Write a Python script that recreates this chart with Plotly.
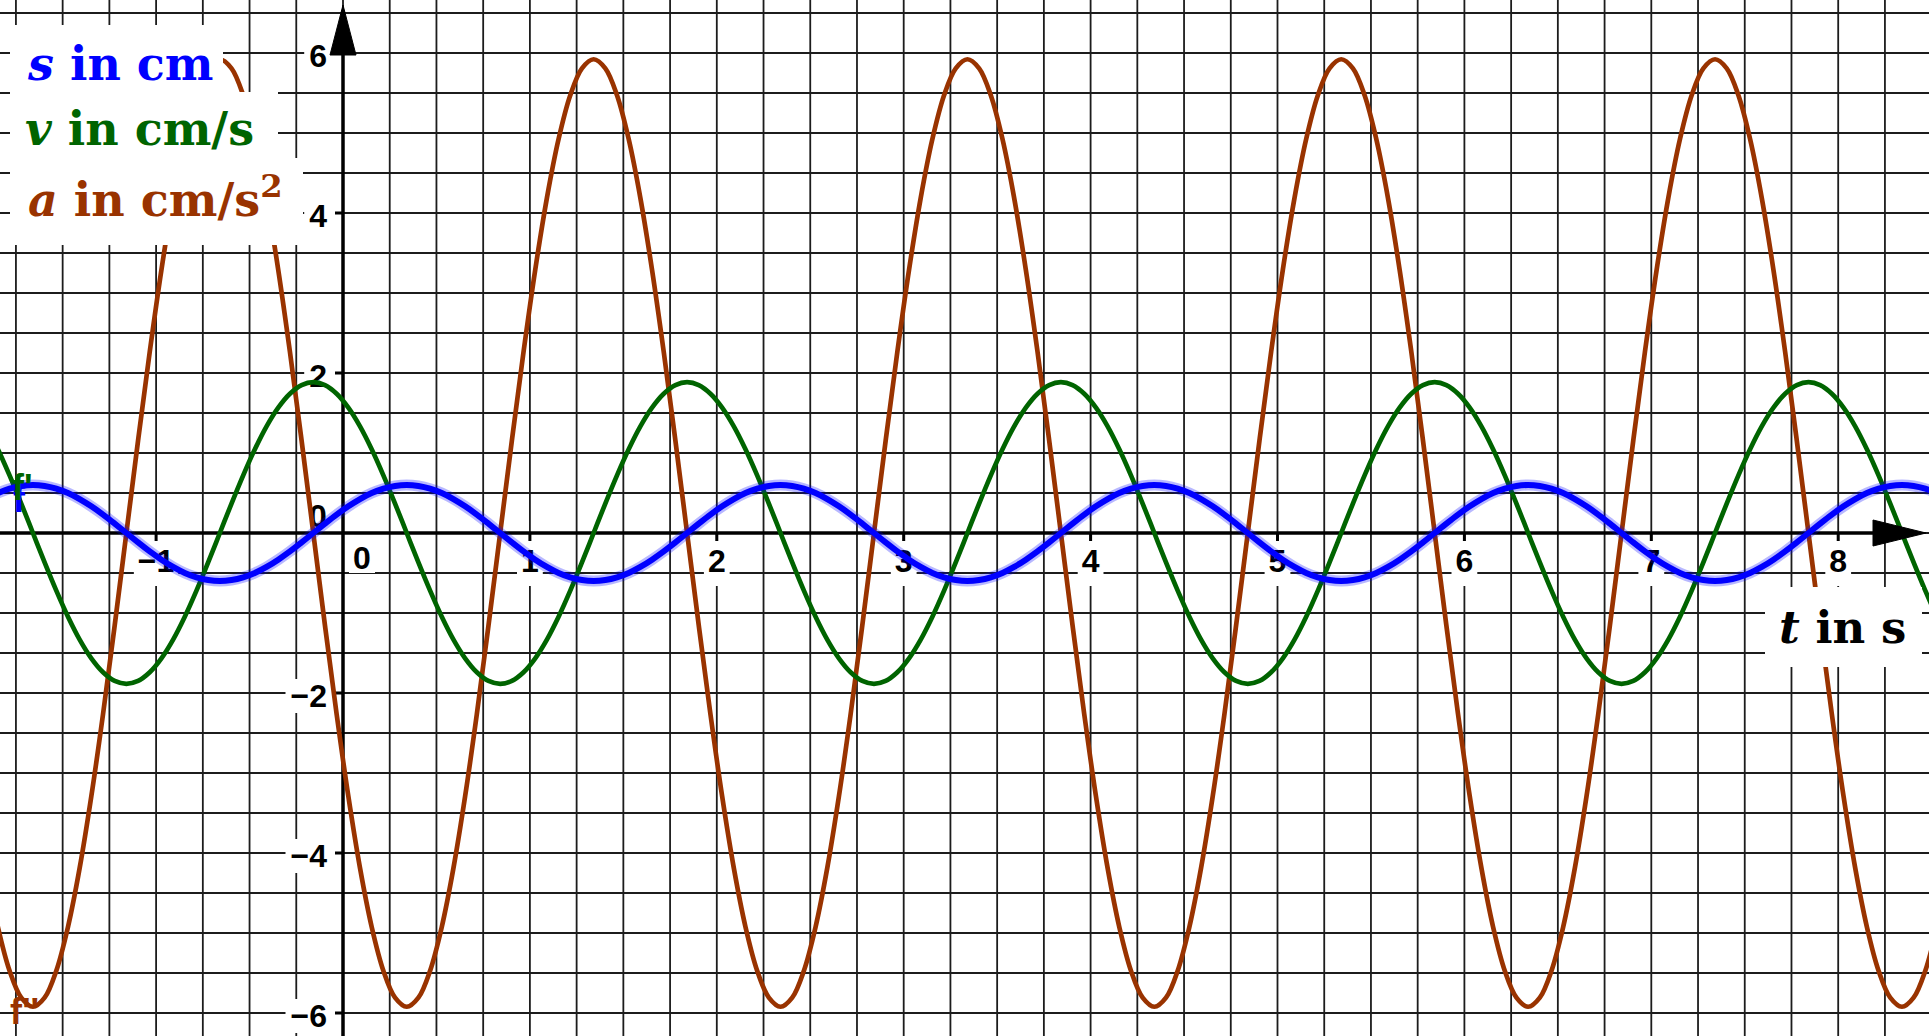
import plotly.graph_objects as go
import numpy as np

# ---------------- data ----------------
t = [-1.909, -1.8465, -1.784, -1.7215, -1.659, -1.5965, -1.534, -1.4715,
     -1.409, -1.3465, -1.284, -1.2215, -1.159, -1.0965, -1.034, -0.9715,
     -0.909, -0.8465, -0.784, -0.7215, -0.659, -0.5965, -0.534, -0.4715,
     -0.409, -0.3465, -0.284, -0.2215, -0.159, -0.0965, -0.034, 0.0285,
     0.091, 0.1535, 0.216, 0.2785, 0.341, 0.4035, 0.466, 0.5285,
     0.591, 0.6535, 0.716, 0.7785, 0.841, 0.9035, 0.966, 1.0285,
     1.091, 1.1535, 1.216, 1.2785, 1.341, 1.4035, 1.466, 1.5285,
     1.591, 1.6535, 1.716, 1.7785, 1.841, 1.9035, 1.966, 2.0285,
     2.091, 2.1535, 2.216, 2.2785, 2.341, 2.4035, 2.466, 2.5285,
     2.591, 2.6535, 2.716, 2.7785, 2.841, 2.9035, 2.966, 3.0285,
     3.091, 3.1535, 3.216, 3.2785, 3.341, 3.4035, 3.466, 3.5285,
     3.591, 3.6535, 3.716, 3.7785, 3.841, 3.9035, 3.966, 4.0285,
     4.091, 4.1535, 4.216, 4.2785, 4.341, 4.4035, 4.466, 4.5285,
     4.591, 4.6535, 4.716, 4.7785, 4.841, 4.9035, 4.966, 5.0285,
     5.091, 5.1535, 5.216, 5.2785, 5.341, 5.4035, 5.466, 5.5285,
     5.591, 5.6535, 5.716, 5.7785, 5.841, 5.9035, 5.966, 6.0285,
     6.091, 6.1535, 6.216, 6.2785, 6.341, 6.4035, 6.466, 6.5285,
     6.591, 6.6535, 6.716, 6.7785, 6.841, 6.9035, 6.966, 7.0285,
     7.091, 7.1535, 7.216, 7.2785, 7.341, 7.4035, 7.466, 7.5285,
     7.591, 7.6535, 7.716, 7.7785, 7.841, 7.9035, 7.966, 8.0285,
     8.091, 8.1535, 8.216, 8.2785, 8.341, 8.4035, 8.466, 8.5285,
     8.591]

s_cm = [0.424, 0.499, 0.554, 0.588, 0.6, 0.588, 0.554, 0.499,
        0.424, 0.333, 0.23, 0.117, 0, -0.117, -0.23, -0.333,
        -0.424, -0.499, -0.554, -0.588, -0.6, -0.588, -0.554, -0.499,
        -0.424, -0.333, -0.23, -0.117, 0, 0.117, 0.23, 0.333,
        0.424, 0.499, 0.554, 0.588, 0.6, 0.588, 0.554, 0.499,
        0.424, 0.333, 0.23, 0.117, 0, -0.117, -0.23, -0.333,
        -0.424, -0.499, -0.554, -0.588, -0.6, -0.588, -0.554, -0.499,
        -0.424, -0.333, -0.23, -0.117, 0, 0.117, 0.23, 0.333,
        0.424, 0.499, 0.554, 0.588, 0.6, 0.588, 0.554, 0.499,
        0.424, 0.333, 0.23, 0.117, 0, -0.117, -0.23, -0.333,
        -0.424, -0.499, -0.554, -0.588, -0.6, -0.588, -0.554, -0.499,
        -0.424, -0.333, -0.23, -0.117, 0, 0.117, 0.23, 0.333,
        0.424, 0.499, 0.554, 0.588, 0.6, 0.588, 0.554, 0.499,
        0.424, 0.333, 0.23, 0.117, 0, -0.117, -0.23, -0.333,
        -0.424, -0.499, -0.554, -0.588, -0.6, -0.588, -0.554, -0.499,
        -0.424, -0.333, -0.23, -0.117, 0, 0.117, 0.23, 0.333,
        0.424, 0.499, 0.554, 0.588, 0.6, 0.588, 0.554, 0.499,
        0.424, 0.333, 0.23, 0.117, 0, -0.117, -0.23, -0.333,
        -0.424, -0.499, -0.554, -0.588, -0.6, -0.588, -0.554, -0.499,
        -0.424, -0.333, -0.23, -0.117, 0, 0.117, 0.23, 0.333,
        0.424, 0.499, 0.554, 0.588, 0.6, 0.588, 0.554, 0.499,
        0.424]

v_cms = [1.333, 1.047, 0.721, 0.368, 0, -0.368, -0.721, -1.047,
         -1.333, -1.567, -1.741, -1.849, -1.885, -1.849, -1.741, -1.567,
         -1.333, -1.047, -0.721, -0.368, 0, 0.368, 0.721, 1.047,
         1.333, 1.567, 1.741, 1.849, 1.885, 1.849, 1.741, 1.567,
         1.333, 1.047, 0.721, 0.368, 0, -0.368, -0.721, -1.047,
         -1.333, -1.567, -1.741, -1.849, -1.885, -1.849, -1.741, -1.567,
         -1.333, -1.047, -0.721, -0.368, 0, 0.368, 0.721, 1.047,
         1.333, 1.567, 1.741, 1.849, 1.885, 1.849, 1.741, 1.567,
         1.333, 1.047, 0.721, 0.368, 0, -0.368, -0.721, -1.047,
         -1.333, -1.567, -1.741, -1.849, -1.885, -1.849, -1.741, -1.567,
         -1.333, -1.047, -0.721, -0.368, 0, 0.368, 0.721, 1.047,
         1.333, 1.567, 1.741, 1.849, 1.885, 1.849, 1.741, 1.567,
         1.333, 1.047, 0.721, 0.368, 0, -0.368, -0.721, -1.047,
         -1.333, -1.567, -1.741, -1.849, -1.885, -1.849, -1.741, -1.567,
         -1.333, -1.047, -0.721, -0.368, 0, 0.368, 0.721, 1.047,
         1.333, 1.567, 1.741, 1.849, 1.885, 1.849, 1.741, 1.567,
         1.333, 1.047, 0.721, 0.368, 0, -0.368, -0.721, -1.047,
         -1.333, -1.567, -1.741, -1.849, -1.885, -1.849, -1.741, -1.567,
         -1.333, -1.047, -0.721, -0.368, 0, 0.368, 0.721, 1.047,
         1.333, 1.567, 1.741, 1.849, 1.885, 1.849, 1.741, 1.567,
         1.333, 1.047, 0.721, 0.368, 0, -0.368, -0.721, -1.047,
         -1.333]

a_cms2 = [-4.188, -4.924, -5.471, -5.808, -5.922, -5.808, -5.471, -4.924,
          -4.188, -3.29, -2.266, -1.155, 0, 1.155, 2.266, 3.29,
          4.188, 4.924, 5.471, 5.808, 5.922, 5.808, 5.471, 4.924,
          4.188, 3.29, 2.266, 1.155, 0, -1.155, -2.266, -3.29,
          -4.188, -4.924, -5.471, -5.808, -5.922, -5.808, -5.471, -4.924,
          -4.188, -3.29, -2.266, -1.155, 0, 1.155, 2.266, 3.29,
          4.188, 4.924, 5.471, 5.808, 5.922, 5.808, 5.471, 4.924,
          4.188, 3.29, 2.266, 1.155, 0, -1.155, -2.266, -3.29,
          -4.188, -4.924, -5.471, -5.808, -5.922, -5.808, -5.471, -4.924,
          -4.188, -3.29, -2.266, -1.155, 0, 1.155, 2.266, 3.29,
          4.188, 4.924, 5.471, 5.808, 5.922, 5.808, 5.471, 4.924,
          4.188, 3.29, 2.266, 1.155, 0, -1.155, -2.266, -3.29,
          -4.188, -4.924, -5.471, -5.808, -5.922, -5.808, -5.471, -4.924,
          -4.188, -3.29, -2.266, -1.155, 0, 1.155, 2.266, 3.29,
          4.188, 4.924, 5.471, 5.808, 5.922, 5.808, 5.471, 4.924,
          4.188, 3.29, 2.266, 1.155, 0, -1.155, -2.266, -3.29,
          -4.188, -4.924, -5.471, -5.808, -5.922, -5.808, -5.471, -4.924,
          -4.188, -3.29, -2.266, -1.155, 0, 1.155, 2.266, 3.29,
          4.188, 4.924, 5.471, 5.808, 5.922, 5.808, 5.471, 4.924,
          4.188, 3.29, 2.266, 1.155, 0, -1.155, -2.266, -3.29,
          -4.188, -4.924, -5.471, -5.808, -5.922, -5.808, -5.471, -4.924,
          -4.188]

x_tick_vals = [-1, 1, 2, 3, 4, 5, 6, 7, 8]
x_tick_text = ["\u22121", "1", "2", "3", "4", "5", "6", "7", "8"]
y_tick_vals = [-6, -4, -2, 2, 4, 6]
y_tick_text = ["\u22126", "\u22124", "\u22122", "2", "4", "6"]

legend_texts = ["<b><i>s</i> in cm</b>", "<b><i>v</i> in cm/s</b>", "<b><i>a</i> in cm/s<sup>2</sup></b>"]
axis_title = "<b><i>t</i> in s</b>"

# ---------------- styling / geometry ----------------
W, H = 1929, 1036
XPX0, XS = 343.0, 186.9   # pixel of x=0, pixels per unit
YPX0, YS = 533.0, 80.0    # pixel of y=0, pixels per unit


def dx(px):
    return (px - XPX0) / XS


def dy(py):
    return (YPX0 - py) / YS


def px_of_x(x):
    return XPX0 + x * XS


def py_of_y(y):
    return YPX0 - y * YS


BLUE = "#0000ff"
GREEN = "#006400"
BROWN = "#993300"
GRID = "#1c1c1c"

shapes = []

# grid (drawn as shapes so label backgrounds can sit above it)
for gx in np.arange(-1.75, 8.26, 0.25):
    shapes.append(dict(type="line", xref="x", yref="y", x0=gx, x1=gx, y0=dy(H), y1=dy(0),
                       line=dict(color=GRID, width=1.8), layer="below"))
for gy in np.arange(-6.0, 6.51, 0.5):
    shapes.append(dict(type="line", xref="x", yref="y", x0=dx(0), x1=dx(W), y0=gy, y1=gy,
                       line=dict(color=GRID, width=1.8), layer="below"))

DIG_W = 17.8
MINUS_W = 18.7
TXT_DY = 4  # vertical correction of rendered text centre


def text_w(s):
    return sum(MINUS_W if ch == "\u2212" else DIG_W for ch in s)


lab_x, lab_y, lab_t = [], [], []
# x tick labels
for v, txt in zip(x_tick_vals, x_tick_text):
    cxp = px_of_x(v)
    cyp = YPX0 + 27
    w = text_w(txt)
    lab_x.append(dx(cxp)); lab_y.append(dy(cyp + TXT_DY)); lab_t.append(txt)
    shapes.append(dict(type="rect", xref="x", yref="y", x0=dx(cxp - w / 2 - 4), x1=dx(cxp + w / 2 + 4),
                       y0=dy(cyp - 19), y1=dy(cyp + 26), fillcolor="white", line=dict(width=0), layer="below"))
# y tick labels
for v, txt in zip(y_tick_vals, y_tick_text):
    w = text_w(txt)
    right = XPX0 - 16
    cxp = right - w / 2
    cyp = py_of_y(v) + 3
    lab_x.append(dx(cxp)); lab_y.append(dy(cyp + TXT_DY - 1)); lab_t.append(txt)
    shapes.append(dict(type="rect", xref="x", yref="y", x0=dx(right - w - 5), x1=dx(XPX0 - 5),
                       y0=dy(cyp - 17), y1=dy(cyp + 17), fillcolor="white", line=dict(width=0), layer="below"))
# origin labels
for cxp, cyp in [(XPX0 + 19, YPX0 + 24), (XPX0 - 25, YPX0 - 18)]:
    lab_x.append(dx(cxp)); lab_y.append(dy(cyp + TXT_DY)); lab_t.append("0")
    shapes.append(dict(type="rect", xref="x", yref="y", x0=dx(cxp - 13), x1=dx(cxp + 13),
                       y0=dy(cyp - 16), y1=dy(cyp + 16), fillcolor="white", line=dict(width=0), layer="below"))

# axes
shapes.append(dict(type="line", xref="x", yref="y", x0=dx(0), x1=dx(1915), y0=0, y1=0,
                   line=dict(color="black", width=3.5), layer="below"))
shapes.append(dict(type="line", xref="x", yref="y", x0=0, x1=0, y0=dy(H), y1=dy(10),
                   line=dict(color="black", width=3.5), layer="below"))
# tick marks
for v in x_tick_vals:
    shapes.append(dict(type="line", xref="x", yref="y", x0=v, x1=v, y0=0, y1=dy(YPX0 + 8),
                       line=dict(color="black", width=3), layer="below"))
for v in y_tick_vals:
    shapes.append(dict(type="line", xref="x", yref="y", x0=dx(XPX0 - 8), x1=0, y0=v, y1=v,
                       line=dict(color="black", width=3), layer="below"))

# arrow heads
top_path = "M {} {} L {} {} L {} {} Z".format(dx(XPX0 - 13), dy(55), dx(XPX0), dy(5), dx(XPX0 + 13), dy(55))
right_path = "M {} {} L {} {} L {} {} Z".format(dx(1873), dy(YPX0 - 13), dx(1926), dy(YPX0), dx(1873), dy(YPX0 + 13))
for p in (top_path, right_path):
    shapes.append(dict(type="path", xref="x", yref="y", path=p, fillcolor="black",
                       line=dict(color="black", width=1), layer="above"))

# legend / axis-title white boxes (above curves)
for (x0, y0, x1, y1) in [(10, 25, 223, 92), (10, 92, 278, 158), (10, 158, 303, 245), (1765, 587, 1922, 667)]:
    shapes.append(dict(type="rect", xref="x", yref="y", x0=dx(x0), x1=dx(x1), y0=dy(y1), y1=dy(y0),
                       fillcolor="white", line=dict(width=0), layer="above"))

fig = go.Figure()

# tick label text (below the curves)
fig.add_trace(go.Scatter(x=lab_x, y=lab_y, text=lab_t, mode="text", textposition="middle center",
                         textfont=dict(family="Liberation Sans, Arial, sans-serif", size=32, color="black",
                                       weight="bold"),
                         hoverinfo="skip", showlegend=False))

fig.add_trace(go.Scatter(x=t, y=a_cms2, mode="lines", line=dict(color=BROWN, width=4.7, shape="spline"),
                         hoverinfo="skip", showlegend=False))
fig.add_trace(go.Scatter(x=t, y=v_cms, mode="lines", line=dict(color=GREEN, width=4.7, shape="spline"),
                         hoverinfo="skip", showlegend=False))
fig.add_trace(go.Scatter(x=t, y=s_cm, mode="lines", line=dict(color="rgba(0,0,255,0.28)", width=11, shape="spline"),
                         hoverinfo="skip", showlegend=False))
fig.add_trace(go.Scatter(x=t, y=s_cm, mode="lines", line=dict(color=BLUE, width=6, shape="spline"),
                         hoverinfo="skip", showlegend=False))

annotations = []
SERIF = "DejaVu Serif, serif"
for txt, col, (lx, cy) in zip(legend_texts, [BLUE, GREEN, BROWN], [(25, 64), (23, 129), (26, 197)]):
    annotations.append(dict(x=dx(lx), y=dy(cy), xref="x", yref="y", text=txt, showarrow=False,
                            xanchor="left", yanchor="middle", font=dict(family=SERIF, size=46, color=col)))
annotations.append(dict(x=dx(1777), y=dy(627), xref="x", yref="y", text=axis_title, showarrow=False,
                        xanchor="left", yanchor="middle", font=dict(family=SERIF, size=45, color="black")))

# function labels f, f', f''
SANS = "Liberation Sans, Arial, sans-serif"
for txt, col, (lx, cy) in [("<b>f</b>", BLUE, (11, 499)), ("<b>f'</b>", GREEN, (10, 487)),
                           ("<b>f''</b>", BROWN, (8, 1011))]:
    annotations.append(dict(x=dx(lx), y=dy(cy), xref="x", yref="y", text=txt, showarrow=False,
                            xanchor="left", yanchor="middle", font=dict(family=SANS, size=36, color=col)))

fig.update_layout(
    width=W, height=H, margin=dict(l=0, r=0, t=0, b=0, pad=0),
    paper_bgcolor="white", plot_bgcolor="white",
    xaxis=dict(range=[dx(0), dx(W)], showgrid=False, zeroline=False, showticklabels=False,
               showline=False, ticks="", fixedrange=True),
    yaxis=dict(range=[dy(H), dy(0)], showgrid=False, zeroline=False, showticklabels=False,
               showline=False, ticks="", fixedrange=True),
    shapes=shapes, annotations=annotations, showlegend=False, hovermode=False,
)

fig.write_html("out.html", config={"displayModeBar": False, "staticPlot": True},
               post_script="document.body.style.margin='0';document.body.style.overflow='hidden';")
